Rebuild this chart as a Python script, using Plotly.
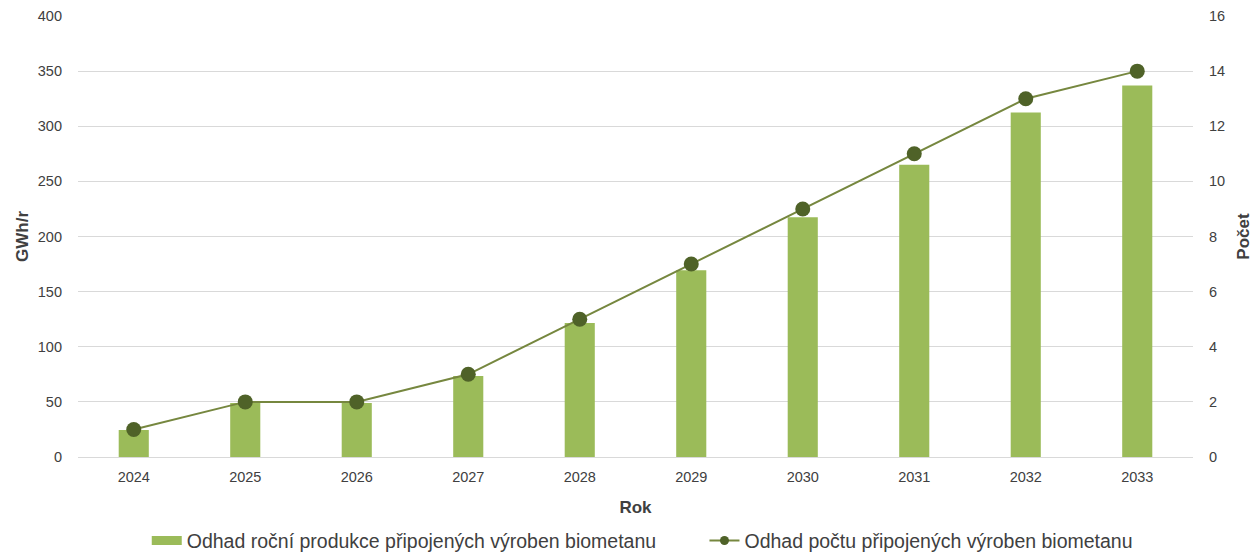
import plotly.graph_objects as go

years = ["2024", "2025", "2026", "2027", "2028", "2029", "2030", "2031", "2032", "2033"]
production_gwh = [24.5, 49, 49, 73.5, 121.5, 169.5, 217.5, 265, 312.5, 337]
plant_count = [1, 2, 2, 3, 5, 7, 9, 11, 13, 14]

left_ticks = [0, 50, 100, 150, 200, 250, 300, 350, 400]
right_ticks = [0, 2, 4, 6, 8, 10, 12, 14, 16]

bar_name = "Odhad roční produkce připojených výroben biometanu"
line_name = "Odhad počtu připojených výroben biometanu"

fig = go.Figure()

# production bars - light green
fig.add_trace(go.Bar(
    x=years, y=production_gwh, name=bar_name, showlegend=False,
    marker_color="#9BBB59", marker_line_width=0, width=0.27,
))

# count line on secondary axis - dark olive markers
fig.add_trace(go.Scatter(
    x=years, y=plant_count, yaxis="y2", mode="lines+markers",
    name=line_name, showlegend=False,
    line=dict(color="#76873F", width=2),
    marker=dict(color="#4F6228", size=15),
))

# legend-only entries, so the swatches look like the Excel ones
# (nbsp padding gives the wider gap between the two items)
fig.add_trace(go.Scatter(
    x=[None], y=[None], mode="lines", name=bar_name + "\u00a0" * 8,
    line=dict(color="#9BBB59", width=9),
))
fig.add_trace(go.Scatter(
    x=[None], y=[None], mode="lines+markers", name=line_name, yaxis="y2",
    line=dict(color="#76873F", width=2), marker=dict(color="#4F6228", size=9),
))

title_font = dict(family="Liberation Sans, Arial", size=17, color="#404040")

# page body has an 8px margin, so the figure is 8px smaller than the window
fig.update_layout(
    width=1250, height=547,
    margin=dict(l=70, r=65, t=8, b=98),
    paper_bgcolor="white", plot_bgcolor="white",
    font=dict(family="Liberation Sans, Arial", size=14.5, color="#404040"),
    showlegend=True,
    legend=dict(orientation="h", xref="container", yref="container",
                x=0.111, xanchor="left", y=0.026, yanchor="middle",
                font=dict(size=19.5, color="#404040")),
    xaxis=dict(
        title=dict(text="<b>Rok</b>", font=title_font, standoff=16),
        range=[-0.5, 9.5],
        showline=True, linecolor="#D9D9D9", linewidth=1, ticks="",
        ticklabelstandoff=7, automargin=False,
    ),
    yaxis=dict(
        title=dict(text="<b>GWh/r</b>", font=title_font, standoff=4),
        range=[0, 400], tickvals=left_ticks, gridcolor="#D9D9D9", zeroline=False,
        ticks="", ticklabelstandoff=15, automargin=False,
    ),
    yaxis2=dict(
        title=dict(text="<b>Počet</b>", font=title_font, standoff=12),
        range=[0, 16], tickvals=right_ticks, overlaying="y", side="right",
        showgrid=False, zeroline=False, ticklabelstandoff=15, automargin=False,
    ),
)

fig.write_html("out.html")
